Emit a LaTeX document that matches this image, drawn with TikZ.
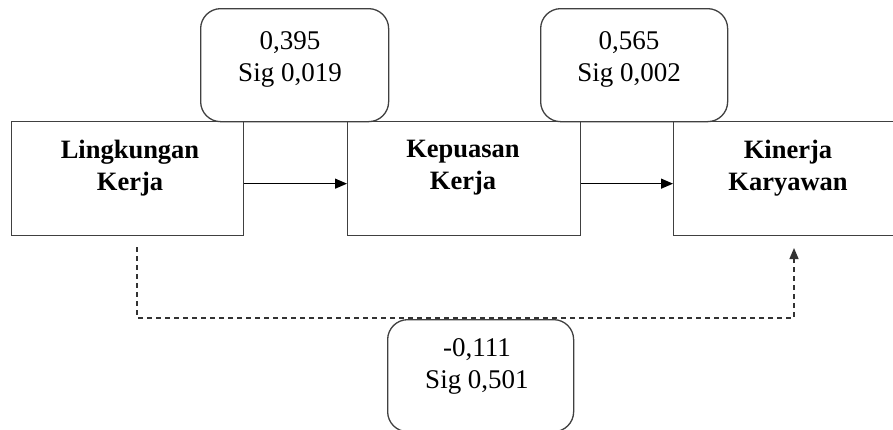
\documentclass[tikz,border=0pt]{standalone}
\usepackage{fontspec}
\setmainfont{Liberation Serif}
\usetikzlibrary{arrows.meta}
\begin{document}
\begin{tikzpicture}[x=1pt,y=-1pt,
  box/.style={draw=black!75,line width=1.3pt,fill=white,anchor=north west,inner sep=0pt},
  rbox/.style={draw=black!75,line width=1.3pt,fill=white,rounded corners=20pt,anchor=north west,inner sep=0pt},
  lbl/.style={align=center,font=\fontsize{27}{32}\selectfont,inner sep=0pt},
  blbl/.style={align=center,font=\fontsize{26.5}{32}\selectfont\bfseries,inner sep=0pt},
  conn/.style={line width=1.2pt,draw=black,-{Triangle[length=12pt,width=10pt]}},
  dconn/.style={line width=1.2pt,draw=black!80,dash pattern=on 5pt off 4pt,-{Triangle[length=11pt,width=9pt]}}]
\useasboundingbox (0,0) rectangle (893,429);
% main boxes
\node[box, minimum width=232pt, minimum height=114pt] (b1) at (11,121) {};
\node[box, minimum width=233pt, minimum height=114pt] (b2) at (347,121) {};
\node[box, minimum width=240pt, minimum height=114pt] (b3) at (673,121) {};
% connectors
\draw[conn] ([yshift=-5pt]b1.east) -- ([yshift=-5pt]b2.west);
\draw[conn] ([yshift=-5pt]b2.east) -- ([yshift=-5pt]b3.west);
\coordinate (ds) at (137,247);
\coordinate (dc) at (794,318);
\coordinate (de) at (794,248);
\draw[dconn] (ds) |- (dc) -- (de);
% rounded boxes
\node[rbox, minimum width=188pt, minimum height=113pt] (r1) at (200,8) {};
\node[rbox, minimum width=187pt, minimum height=113pt] (r2) at (540,8) {};
\node[rbox, minimum width=186pt, minimum height=112pt] (r3) at (387,319) {};
% texts
\node[blbl] (t1) at (130,168) {Lingkungan\\Kerja};
\node[blbl] (t2) at (463,168) {Kepuasan\\Kerja};
\node[blbl] (t3) at (788,168) {Kinerja\\Karyawan};
\node[lbl] (v1) at (290,59) {0,395\\Sig 0,019};
\node[lbl] (v2) at (629,59) {0,565\\Sig 0,002};
\node[lbl] (v3) at (477,366) {-0,111\\Sig 0,501};
\end{tikzpicture}
\end{document}
